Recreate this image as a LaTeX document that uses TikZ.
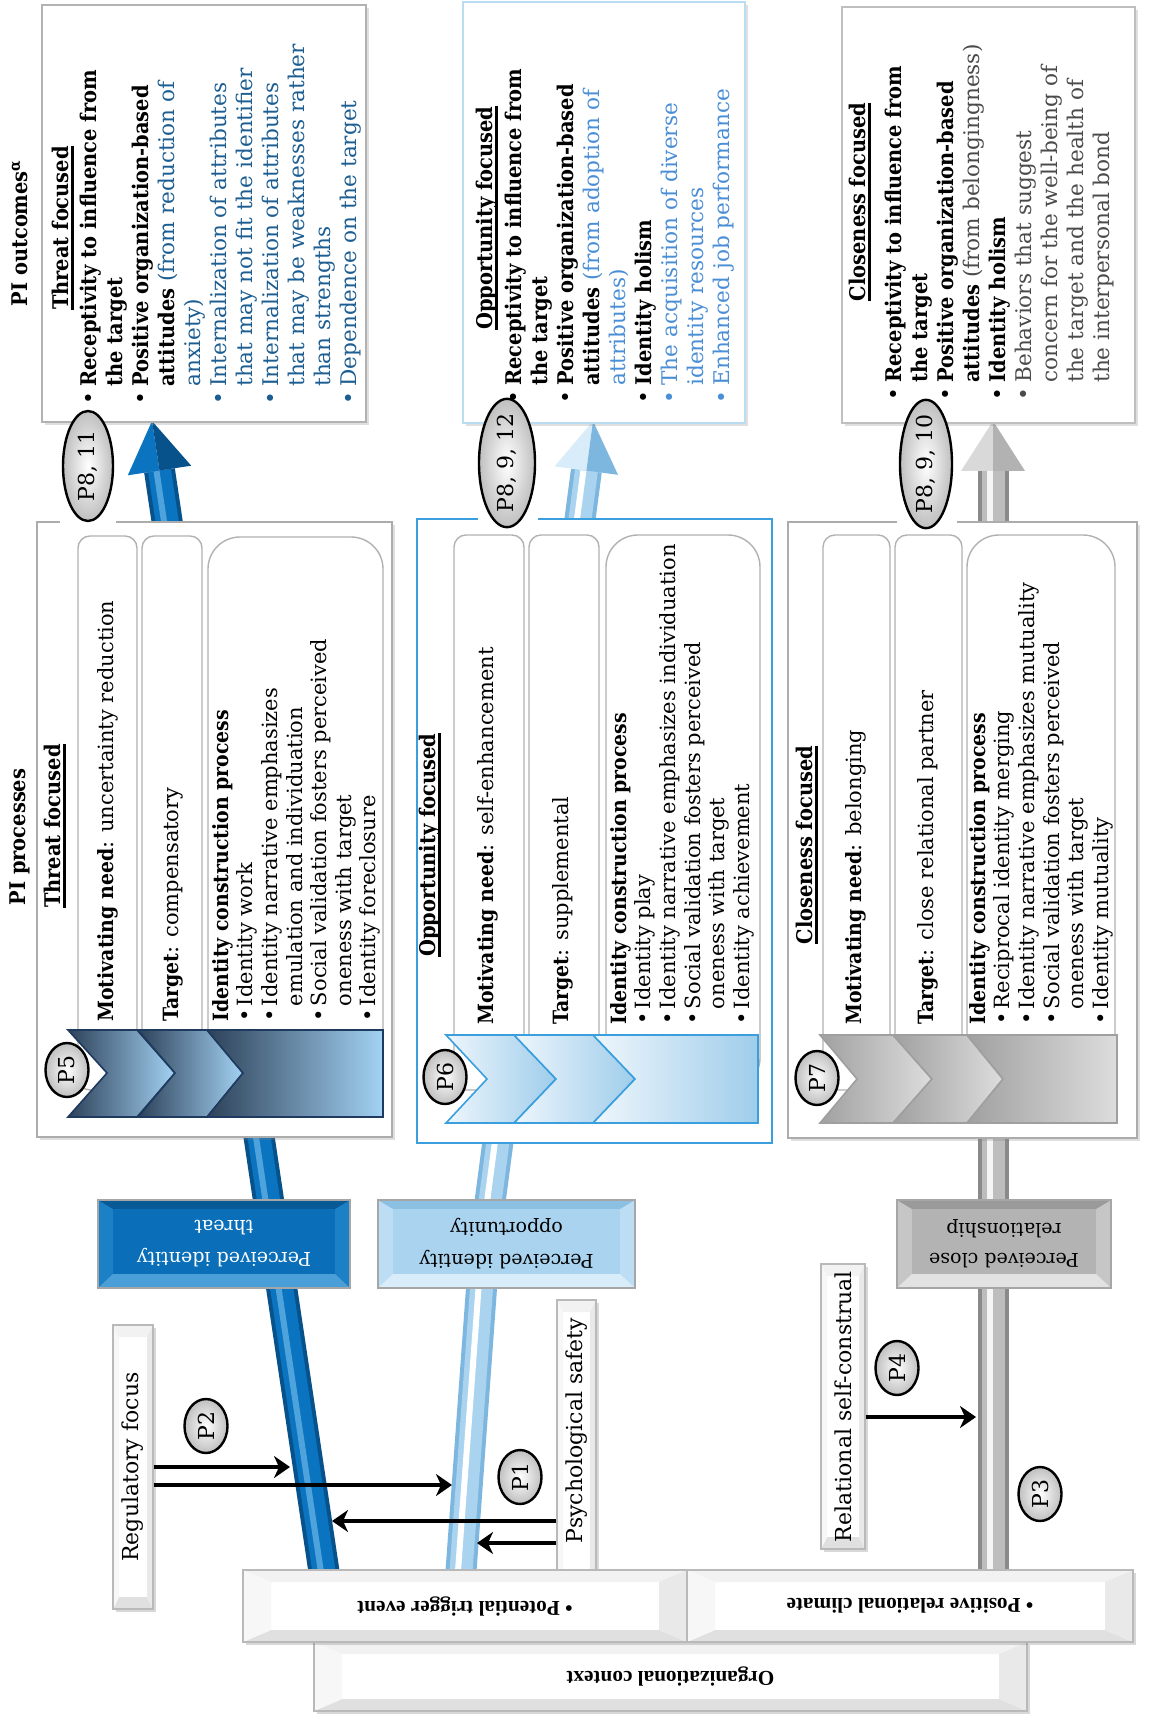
\documentclass[tikz,border=0pt]{standalone}
\usepackage{graphicx}
\usepackage{fontspec}
\setmainfont{DejaVu Serif}[BoldFont={DejaVu Serif Condensed Bold}]
\newfontfamily\timesf{Liberation Serif}
\usetikzlibrary{shapes.geometric,arrows.meta,calc,shadows}
\definecolor{tbluedk}{HTML}{08528C}
\definecolor{tblue}{HTML}{0B74C0}
\definecolor{tbluehi}{HTML}{4FA3DC}
\definecolor{oblue}{HTML}{A9D3EF}
\definecolor{obluedk}{HTML}{7DB6DE}
\definecolor{gtube}{HTML}{BDBDBD}
\definecolor{gtubedk}{HTML}{8A8A8A}
\definecolor{thrtxt}{HTML}{1D5E92}
\definecolor{opptxt}{HTML}{4A8ED6}
\definecolor{clotxt}{HTML}{4A4A4A}
\definecolor{oppframe}{HTML}{3A9FDC}
\definecolor{thrL}{HTML}{2D4159}
\definecolor{thrR}{HTML}{A3D2F3}
\definecolor{thrO}{HTML}{1E3A5F}
\definecolor{oppL}{HTML}{EEF6FC}
\definecolor{oppR}{HTML}{9FCDEB}
\definecolor{cloL}{HTML}{A0A0A0}
\definecolor{cloR}{HTML}{DDDDDD}
\definecolor{pitB}{HTML}{0A6FB8}
\definecolor{pitT}{HTML}{075A96}
\definecolor{pitBot}{HTML}{4A9FD8}
\definecolor{pitS}{HTML}{1B80C6}
\definecolor{pioB}{HTML}{A9D3EF}
\definecolor{pioT}{HTML}{8CC0E3}
\definecolor{pioBot}{HTML}{D8ECF9}
\definecolor{pioS}{HTML}{BCDDF3}
\definecolor{pcrB}{HTML}{B3B3B3}
\definecolor{pcrT}{HTML}{9A9A9A}
\definecolor{pcrBot}{HTML}{E2E2E2}
\definecolor{pcrS}{HTML}{C6C6C6}
\newcommand\obul{\makebox[9pt][l]{•}}
\newcommand\oind{\hspace*{9pt}}
\newcommand\pbul{\makebox[7.8pt][l]{•}}
\newcommand\pind{\hspace*{7.8pt}}
\newcommand\thul[1]{\setbox0=\hbox{#1}\rlap{\rule[-2.4pt]{\wd0}{1.1pt}}\box0}
\newcommand\bevel[8]{%
  \fill[#8] (#1,#2) rectangle (#3,#4);
  \fill[#6] (#1,#2) -- (#3,#2) -- (#3-15,#2+9) -- (#1+15,#2+9) -- cycle;
  \fill[#7] (#1,#4) -- (#3,#4) -- (#3-15,#4-14) -- (#1+15,#4-14) -- cycle;
  \fill[#5] (#1+15,#2+9) rectangle (#3-15,#4-14);
  \draw[gray!70, line width=0.6pt] (#1,#2) rectangle (#3,#4);
}
\begin{document}
\begin{tikzpicture}[x=0.5pt,y=-0.5pt,
  vt/.style={rotate=90, anchor=north west, inner sep=0pt, align=left},
  ofont/.style={font=\fontsize{10.8}{13}\selectfont},
  pfont/.style={font=\fontsize{10.5}{12.3}\selectfont},
  hd/.style={rotate=90, inner sep=0pt, font=\fontsize{10.8}{13}\selectfont\bfseries},
  pell/.style={ellipse, draw=black, line width=1.2pt, inner color=white, outer color=gray!50, minimum width=21.5pt, minimum height=27pt, inner sep=0pt, font=\fontsize{11}{13}\selectfont},
  bigell/.style={pell, inner sep=-2pt},
  conn/.style={line width=2.3pt, -{Stealth[length=8pt,width=11pt,inset=2.5pt]}},
  wbox/.style={draw=gray!55, fill=white, inner sep=0pt, line width=0.6pt, drop shadow={opacity=0.3, shadow xshift=1.5pt, shadow yshift=-1.5pt}, font=\fontsize{11}{13}\selectfont},
  bev/.style 2 args={path picture={
    \fill[gray!10] (path picture bounding box.north west) -- (path picture bounding box.north east)
      -- ([xshift=-#1,yshift=-#2]path picture bounding box.north east) -- ([xshift=#1,yshift=-#2]path picture bounding box.north west) -- cycle;
    \fill[gray!24] (path picture bounding box.south west) -- (path picture bounding box.south east)
      -- ([xshift=-#1,yshift=#2]path picture bounding box.south east) -- ([xshift=#1,yshift=#2]path picture bounding box.south west) -- cycle;
    \fill[gray!6] (path picture bounding box.north west) -- ([xshift=#1,yshift=-#2]path picture bounding box.north west)
      -- ([xshift=#1,yshift=#2]path picture bounding box.south west) -- (path picture bounding box.south west) -- cycle;
    \fill[gray!17] (path picture bounding box.north east) -- ([xshift=-#1,yshift=-#2]path picture bounding box.north east)
      -- ([xshift=-#1,yshift=#2]path picture bounding box.south east) -- (path picture bounding box.south east) -- cycle;
  }},
  chev/.style={line width=0.8pt},
  col/.style={draw=gray!60, fill=white, line width=0.7pt},
  obox/.style={fill=white, line width=0.8pt, drop shadow={opacity=0.25, shadow xshift=1.5pt, shadow yshift=-1.5pt}},
]
\useasboundingbox (0,0) rectangle (1148,1716);
\fill[white] (0,0) rectangle (1148,1716);

% ---------- tubes ----------
\coordinate (dtA) at (326,1585);
\coordinate (dtB) at (159.5,470.5);
\draw[tbluedk, line width=15.5pt] (dtA) -- (dtB);
\draw[tblue, line width=11.5pt] (dtA) -- (dtB);
\draw[tbluehi, line width=3pt] ($(dtA)+(-3,0.5)$) -- ($(dtB)+(-3,0.5)$);
\fill[tblue] (152,421) -- (127.8,475.3) -- (dtB) -- cycle;
\fill[tbluedk] (152,421) -- (dtB) -- (191.2,465.7) -- cycle;

\coordinate (ltA) at (460,1585);
\coordinate (ltM) at (485,1240);
\coordinate (ltB) at (586.4,470.6);
\draw[obluedk, line width=15.5pt, line join=round] (ltA) -- (ltM) -- (ltB);
\draw[oblue, line width=11.5pt, line join=round] (ltA) -- (ltM) -- (ltB);
\draw[white, line width=3pt, line join=round] ($(ltA)+(-3,0)$) -- ($(ltM)+(-3,0)$) -- ($(ltB)+(-3,0)$);
\fill[pioBot] (593,421) -- (554.7,466.4) -- (ltB) -- cycle;
\fill[obluedk] (593,421) -- (ltB) -- (618,474.8) -- cycle;

\coordinate (gtA) at (993,1585);
\coordinate (gtB) at (993,471);
\draw[gtubedk, line width=15.5pt] (gtA) -- (gtB);
\draw[gtube, line width=11.5pt] (gtA) -- (gtB);
\draw[gray!8, line width=3pt] ($(gtA)+(-3,0)$) -- ($(gtB)+(-3,0)$);
\fill[gray!30] (993,421) -- (961,471) -- (gtB) -- cycle;
\fill[gray!60] (993,421) -- (gtB) -- (1025,471) -- cycle;

% ---------- outcome boxes ----------
\draw[obox, draw=gray!60] (42,5) rectangle (366,422);
\draw[obox, draw=oppframe!35] (463,2) rectangle (745,423);
\draw[obox, draw=gray!50] (842,7) rectangle (1135,423);

\node[hd] (outl) at (20,233) {PI outcomes\textsuperscript{α}};
\node[hd] (procl) at (20,837) {PI processes};

\node[hd] (oh1) at (63,228) {\thul{Threat focused}};
\node[vt,ofont] (ot1) at (80,405) {\obul\textbf{Receptivity to influence from}\\
\oind\textbf{the target}\\
\obul\textbf{Positive organization-based}\\
\oind\textbf{attitudes} \textcolor{thrtxt}{(from reduction of}\\
\oind\textcolor{thrtxt}{anxiety)}\\
\textcolor{thrtxt}{\obul Internalization of attributes}\\
\oind\textcolor{thrtxt}{that may not fit the identifier}\\
\textcolor{thrtxt}{\obul Internalization of attributes}\\
\oind\textcolor{thrtxt}{that may be weaknesses rather}\\
\oind\textcolor{thrtxt}{than strengths}\\
\textcolor{thrtxt}{\obul Dependence on the target}};

\node[hd] (oh2) at (487,218) {\thul{Opportunity focused}};
\node[vt,ofont] (ot2) at (505,404) {\obul\textbf{Receptivity to influence from}\\
\oind\textbf{the target}\\
\obul\textbf{Positive organization-based}\\
\oind\textbf{attitudes} \textcolor{opptxt}{(from adoption of}\\
\oind\textcolor{opptxt}{attributes)}\\
\obul\textbf{Identity holism}\\
\textcolor{opptxt}{\obul The acquisition of diverse}\\
\oind\textcolor{opptxt}{identity resources}\\
\textcolor{opptxt}{\obul Enhanced job performance}};

\node[hd] (oh3) at (860,202) {\thul{Closeness focused}};
\node[vt,ofont] (ot3) at (885,401) {\obul\textbf{Receptivity to influence from}\\
\oind\textbf{the target}\\
\obul\textbf{Positive organization-based}\\
\oind\textbf{attitudes} \textcolor{clotxt}{(from belongingness)}\\
\obul\textbf{Identity holism}\\
\textcolor{clotxt}{\obul Behaviors that suggest}\\
\oind\textcolor{clotxt}{concern for the well-being of}\\
\oind\textcolor{clotxt}{the target and the health of}\\
\oind\textcolor{clotxt}{the interpersonal bond}};

% ---------- process box 1 (threat) ----------
\draw[obox, draw=gray!65] (37,522) rectangle (392,1137);
\draw[col, rounded corners=6pt] (78,536) rectangle (137,1090);
\draw[col, rounded corners=6pt] (142,536) rectangle (202,1090);
\draw[col, rounded corners=16pt] (208,537) rectangle (383,1090);
\shade[chev, draw=thrO, left color=thrL, right color=thrR] (68,1030) -- (137,1030) -- (175,1073) -- (137,1117) -- (68,1117) -- (107,1073) -- cycle;
\shade[chev, draw=thrO, left color=thrL, right color=thrR] (138,1030) -- (207,1030) -- (243,1073) -- (207,1117) -- (138,1117) -- (175,1073) -- cycle;
\shade[chev, draw=thrO, left color=thrL, right color=thrR] (207,1030) -- (383,1030) -- (383,1117) -- (207,1117) -- (243,1073) -- cycle;
\node[pell] (p5) at (67,1070) {\rotatebox{90}{P5}};
\node[hd] (ph1) at (55,826) {\thul{Threat focused}};
\node[vt,pfont] (pa1) at (97,1022) {\textbf{Motivating need}: uncertainty reduction};
\node[vt,pfont] (pb1) at (163,1022) {\textbf{Target}: compensatory};
\node[vt,pfont] (pc1) at (212,1022) {\textbf{Identity construction process}\\
\pbul Identity work\\
\pbul Identity narrative emphasizes\\
\pind emulation and individuation\\
\pbul Social validation fosters perceived\\
\pind oneness with target\\
\pbul Identity foreclosure};

% ---------- process box 2 (opportunity) ----------
\draw[fill=white, draw=oppframe, line width=1.1pt] (417,519) rectangle (772,1143);
\draw[col, rounded corners=6pt] (454,535) rectangle (524,1090);
\draw[col, rounded corners=6pt] (529,535) rectangle (599,1090);
\draw[col, rounded corners=16pt] (606,535) rectangle (760,1090);
\shade[chev, draw=oppframe, left color=oppL, right color=oppR] (446,1035) -- (514,1035) -- (556,1079) -- (514,1123) -- (446,1123) -- (487,1079) -- cycle;
\shade[chev, draw=oppframe, left color=oppL, right color=oppR] (514,1035) -- (593,1035) -- (635,1079) -- (593,1123) -- (514,1123) -- (556,1079) -- cycle;
\shade[chev, draw=oppframe, left color=oppL, right color=oppR] (593,1035) -- (758,1035) -- (758,1123) -- (593,1123) -- (635,1079) -- cycle;
\node[pell] (p6) at (445,1077) {\rotatebox{90}{P6}};
\node[hd] (ph2) at (430,845) {\thul{Opportunity focused}};
\node[vt,pfont] (pa2) at (477,1025) {\textbf{Motivating need}: self-enhancement};
\node[vt,pfont] (pb2) at (552,1025) {\textbf{Target}: supplemental};
\node[vt,pfont] (pc2) at (610,1025) {\textbf{Identity construction process}\\
\pbul Identity play\\
\pbul Identity narrative emphasizes individuation\\
\pbul Social validation fosters perceived\\
\pind oneness with target\\
\pbul Identity achievement};

% ---------- process box 3 (closeness) ----------
\draw[obox, draw=gray!65] (788,522) rectangle (1137,1138);
\draw[col, rounded corners=6pt] (823,535) rectangle (890,1090);
\draw[col, rounded corners=6pt] (895,535) rectangle (962,1090);
\draw[col, rounded corners=16pt] (967,535) rectangle (1115,1090);
\shade[chev, draw=gray!75, left color=cloL, right color=cloR] (820,1035) -- (893,1035) -- (932,1079) -- (893,1123) -- (820,1123) -- (857,1079) -- cycle;
\shade[chev, draw=gray!75, left color=cloL, right color=cloR] (893,1035) -- (967,1035) -- (1003,1079) -- (967,1123) -- (893,1123) -- (932,1079) -- cycle;
\shade[chev, draw=gray!75, left color=cloL, right color=cloR] (967,1035) -- (1117,1035) -- (1117,1123) -- (967,1123) -- (1003,1079) -- cycle;
\node[pell] (p7) at (817,1078) {\rotatebox{90}{P7}};
\node[hd] (ph3) at (807,845) {\thul{Closeness focused}};
\node[vt,pfont] (pa3) at (845,1025) {\textbf{Motivating need}: belonging};
\node[vt,pfont] (pb3) at (917,1025) {\textbf{Target}: close relational partner};
\node[vt,pfont] (pc3) at (969,1025) {\textbf{Identity construction process}\\
\pbul Reciprocal identity merging\\
\pbul Identity narrative emphasizes mutuality\\
\pbul Social validation fosters perceived\\
\pind oneness with target\\
\pbul Identity mutuality};

% ---------- proposition ellipses between levels ----------
\fill[white] (60,470) rectangle (116,525);
\node[bigell, minimum width=25pt, minimum height=55pt] (p811) at (88,466) {\rotatebox{90}{P8, 11}};
\fill[white] (478,470) rectangle (538,525);
\node[bigell, minimum width=28pt, minimum height=59pt] (p8912) at (507,463) {\rotatebox{90}{P8, 9, 12}};
\fill[white] (897,470) rectangle (957,525);
\node[bigell, minimum width=26pt, minimum height=57pt] (p8910) at (926,464) {\rotatebox{90}{P8, 9, 10}};

% ---------- perceived boxes ----------
\bevel{98}{1200}{350}{1288}{pitB}{pitT}{pitBot}{pitS}
\node[rotate=180, align=center, text=white, font=\fontsize{9.5}{16}\selectfont] (pit) at (224,1244) {Perceived identity\\threat};
\bevel{378}{1200}{635}{1288}{pioB}{pioT}{pioBot}{pioS}
\node[rotate=180, align=center, font=\fontsize{9.5}{16}\selectfont] (pio) at (506.5,1244) {Perceived identity\\opportunity};
\bevel{897}{1200}{1111}{1288}{pcrB}{pcrT}{pcrBot}{pcrS}
\node[rotate=180, align=center, font=\fontsize{9.5}{15}\selectfont] (pcr) at (1004,1244) {Perceived close\\relationship};

% ---------- moderators ----------
\node[wbox, bev={3pt}{6pt}, minimum width=20pt, minimum height=142pt] (reg) at (133,1467) {\rotatebox{90}{Regulatory focus}};
\node[wbox, bev={3pt}{6pt}, minimum width=19.5pt, minimum height=142.5pt] (psy) at (576.5,1442.5) {\rotatebox{90}{\hspace*{12pt}Psychological safety}};
\node[wbox, bev={3pt}{6pt}, minimum width=22pt, minimum height=142.5pt] (rsc) at (843,1406.5) {\rotatebox{90}{Relational self-construal}};

\coordinate (dt1) at (290,1467);
\coordinate (lt1) at (452,1485);
\coordinate (dt2) at (332,1521);
\coordinate (lt2) at (477,1543);
\coordinate (gt1) at (976,1417);
\draw[conn] (reg.east |- dt1) -- (dt1);
\draw[conn] (reg.east |- lt1) -- (lt1);
\draw[conn] (psy.west |- dt2) -- (dt2);
\draw[conn] (psy.west |- lt2) -- (lt2);
\draw[conn] (rsc.east |- gt1) -- (gt1);

\node[pell] (p2) at (206,1426) {\rotatebox{90}{P2}};
\node[pell] (p1) at (520,1477) {\rotatebox{90}{P1}};
\node[pell] (p4) at (897,1368) {\rotatebox{90}{P4}};
\node[pell] (p3) at (1040,1494) {\rotatebox{90}{P3}};

% ---------- organizational context ----------
\node[wbox, bev={14pt}{6pt}, minimum width=356.5pt, minimum height=34.5pt, font=\timesf\fontsize{10.6}{12}\selectfont\bfseries] (org) at (670.5,1676.5) {\rotatebox{180}{Organizational context}};
\node[wbox, bev={14pt}{6pt}, minimum width=222pt, minimum height=36pt, font=\timesf\fontsize{10.6}{12}\selectfont\bfseries] (trig) at (465,1606) {\rotatebox{180}{• Potential trigger event}};
\node[wbox, bev={14pt}{6pt}, minimum width=223pt, minimum height=36pt, font=\timesf\fontsize{10.6}{12}\selectfont\bfseries] (clim) at (910,1606) {\rotatebox{180}{• Positive relational climate}};
\end{tikzpicture}
\end{document}
